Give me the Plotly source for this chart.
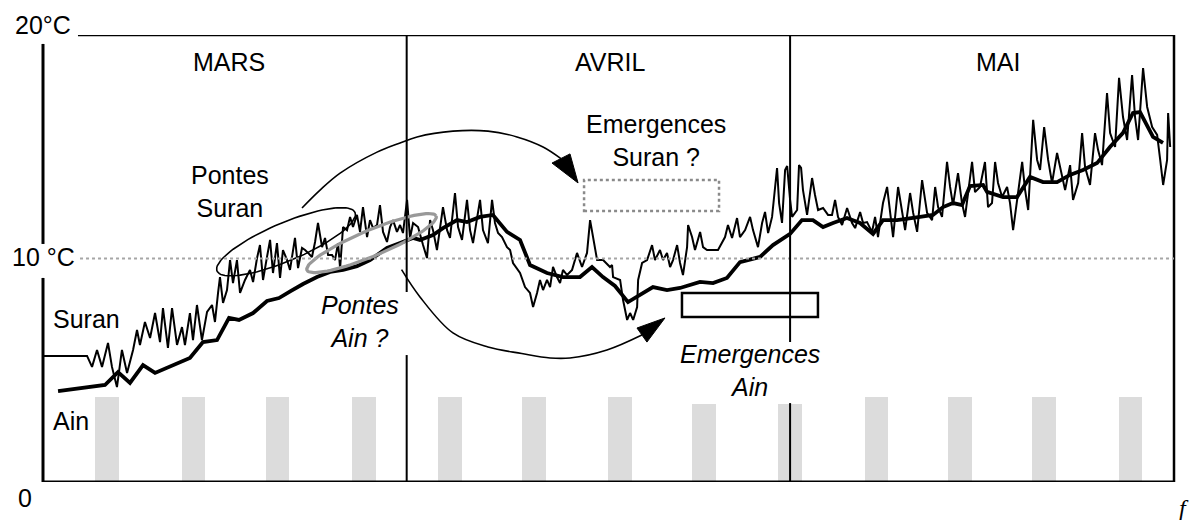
import numpy as np
import plotly.graph_objects as go

# ---------------- data (days since 1 March, water temperature in °C) ----------------
ain_day = [3.72, 7.39, 8.41, 9.35, 10.37, 11.31, 14.04, 15.06, 16.16, 17.10, 17.88, 18.98,
           20.07, 21.01, 21.95, 22.89, 23.98, 25.00, 26.02, 27.11, 28.13, 29.46, 30.48, 31.49,
           32.04, 33.06, 33.84, 34.94, 35.72, 36.74, 37.75, 38.85, 39.87, 40.65, 41.98, 43.23,
           44.56, 45.50, 46.36, 47.30, 48.32, 49.26, 50.27, 51.37, 52.39, 53.95, 54.97, 56.06,
           57.08, 58.65, 59.66, 61.00, 61.93, 62.79, 63.58, 64.36, 65.45, 66.47, 67.49, 68.27,
           69.37, 71.17, 72.18, 72.97, 73.75, 74.45, 75.08, 76.10, 76.41, 77.66, 78.76, 79.77,
           80.79, 81.89, 82.90, 83.92, 85.02, 86.03, 87.05, 87.83, 88.38, 89.40, 90.18]
ain_temp = [4.07, 4.34, 4.92, 4.43, 5.23, 4.88, 5.55, 6.26, 6.35, 7.34, 7.25, 7.56,
            8.10, 8.23, 8.55, 8.86, 9.17, 9.40, 9.49, 9.66, 9.93, 10.47, 10.69, 10.92,
            10.83, 11.05, 11.36, 11.72, 11.63, 11.86, 11.95, 11.19, 10.83, 9.71, 9.35, 9.17,
            9.17, 9.62, 9.17, 8.77, 8.05, 8.37, 8.72, 8.59, 8.68, 8.95, 8.90, 9.13,
            9.84, 10.07, 10.60, 11.10, 11.72, 11.72, 11.41, 11.59, 11.81, 11.59, 11.10, 11.72,
            11.72, 11.86, 11.95, 12.30, 12.48, 12.39, 13.24, 13.29, 12.98, 12.75, 12.75, 13.65,
            13.42, 13.42, 13.74, 13.96, 14.27, 14.99, 15.62, 16.51, 16.55, 15.44, 15.17]

suran_day = [2.55, 5.99, 6.38, 6.77, 7.16, 7.63, 7.94, 8.33, 8.72, 9.12, 9.59, 9.90, 10.13,
             10.52, 10.92, 11.31, 11.70, 11.93, 12.32, 12.64, 13.03, 13.42, 13.65, 14.04, 14.28,
             14.59, 14.98, 15.38, 15.77, 16.00, 16.24, 16.39, 16.63, 16.94, 17.18, 17.41, 17.72,
             17.96,
             18.35, 18.74, 18.98, 19.29, 19.52, 19.76, 20.07, 20.31, 20.54, 20.85, 21.09, 21.32,
             21.64, 21.87, 22.26, 22.50, 22.81, 23.05, 23.28, 23.59, 23.83, 24.06, 24.38, 24.61,
             24.85, 25.16, 25.39, 25.63, 25.79, 26.02, 26.33, 26.57, 26.80, 27.11, 27.35, 27.58,
             27.90, 28.13, 28.37, 28.68, 28.91, 29.15, 29.46, 29.70, 29.93, 30.24, 30.48, 30.71,
             31.03, 31.26, 31.50,
             31.89, 32.28, 32.59, 32.83, 33.06, 33.37, 33.61, 33.84, 34.16, 34.39, 34.78, 35.02,
             35.33, 35.72, 35.96, 36.19, 36.74, 36.97, 37.36, 37.68, 37.91, 38.15, 38.46, 38.85,
             39.09, 39.32, 39.87, 40.26, 40.65, 40.89, 41.20, 41.43, 41.67, 41.98, 42.22, 42.45,
             42.76, 43.00, 43.23, 43.55, 43.94, 44.33, 44.72, 45.11, 45.35, 45.59, 45.90, 46.37,
             46.91,
             47.07, 47.15, 47.70, 47.93, 48.25, 48.48, 48.72, 49.03, 49.11, 49.42, 49.81, 50.20,
             50.43, 50.82, 51.06, 51.37, 51.61, 51.84, 52.16, 52.39, 52.62, 52.94, 53.02, 53.33,
             53.56, 53.96, 54.19, 54.50, 54.97, 55.36, 55.91, 56.14, 56.46, 56.85, 57.08, 57.48,
             57.87, 58.10, 58.49, 58.81, 59.04, 59.28, 59.59, 59.83, 59.98, 60.14, 60.37, 60.61,
             60.77, 61.00, 61.16, 61.55, 61.70, 61.86, 62.01, 62.33,
             62.72, 62.95, 63.19, 63.58, 63.97, 64.28, 64.52, 64.75, 65.07, 65.46, 65.85, 66.09,
             66.48, 66.71, 67.02, 67.41, 67.65, 67.88, 68.27, 68.59, 68.82, 69.06, 69.45, 69.76,
             70.00, 70.39, 70.63, 70.94, 71.33, 71.72, 72.11, 72.35, 72.58, 72.89, 73.28, 73.52,
             73.75, 74.14, 74.45, 74.69, 75.24, 75.47, 75.86, 76.25, 76.49,
             76.80, 77.04, 77.27, 77.59, 77.98, 78.21, 78.45, 78.84, 79.16, 79.39, 79.63, 80.02,
             80.33, 80.56, 80.88, 81.19, 81.50, 81.89, 82.13, 82.52, 82.91, 83.14, 83.54, 83.85,
             84.08, 84.47, 84.86, 85.10, 85.41, 85.80, 86.04, 86.43, 86.74, 87.05, 87.37, 87.76,
             87.99, 88.23, 88.62, 88.94, 89.33, 89.72, 89.96, 90.19, 90.50, 90.58, 90.74]
suran_temp = [5.64, 5.64, 5.15, 5.91, 5.15, 6.22, 5.15, 4.25, 5.91, 4.88, 5.91, 6.80, 6.13,
              7.16, 6.44, 7.56, 6.26, 7.78, 6.00, 7.78, 6.13, 6.93, 6.13, 7.56, 6.35,
              7.92, 6.35, 7.61, 7.92, 7.16, 8.46, 9.17, 8.01, 8.59, 9.93, 8.90, 9.93,
              8.46,
              9.04, 9.49, 8.95, 10.02, 10.60, 9.04, 10.07, 10.83, 9.35, 10.69, 9.13, 10.38,
              9.93, 9.49, 10.92, 9.57, 10.47, 10.38, 10.25, 10.07, 10.74, 11.59, 10.51, 10.92,
              10.16, 10.16, 9.93, 10.69, 9.57, 11.41, 11.27, 11.86, 11.41, 11.95, 11.19, 12.30,
              10.96, 11.72, 11.36, 11.50, 12.39, 11.19, 10.74, 11.41, 11.72, 11.19, 11.50, 11.14,
              12.62, 10.92, 11.59,
              11.41, 10.60, 10.02, 11.72, 11.27, 10.38, 11.27, 12.30, 11.27, 10.92, 12.93, 11.41,
              10.83, 12.62, 11.27, 10.69, 12.62, 11.27, 10.69, 12.62, 11.59, 11.14, 10.96, 10.51,
              10.38, 9.80, 9.35, 8.72, 8.46, 7.83, 8.46, 9.04, 8.59, 9.04, 8.72, 9.62,
              9.17, 8.90, 9.49, 9.26, 9.49, 10.25, 9.62, 10.25, 11.72, 10.96, 9.93, 9.93,
              9.62,
              9.71, 9.17, 9.04, 8.14, 7.25, 7.56, 7.25, 7.83, 9.04, 9.80, 9.93, 10.60,
              9.93, 10.38, 9.93, 10.25, 9.62, 9.93, 10.60, 9.80, 9.26, 10.51, 11.50, 10.96,
              10.38, 11.19, 10.51, 10.38, 10.38, 10.38, 10.96, 11.50, 10.92, 11.81, 10.96, 11.27,
              11.86, 11.27, 10.51, 11.59, 12.08, 11.14, 11.86, 13.29, 14.05, 12.48, 11.59, 13.96,
              14.14, 12.62, 11.86, 12.17, 14.18, 14.05, 13.06, 11.95,
              13.60, 12.84, 12.17, 12.26, 11.95, 11.95, 12.62, 11.86, 11.50, 12.26, 11.59, 11.36,
              12.08, 11.59, 11.63, 11.19, 11.86, 10.96, 12.48, 13.20, 12.17, 10.96, 13.20, 12.04,
              11.27, 12.93, 12.04, 11.19, 13.51, 12.04, 11.72, 13.20, 12.30, 11.86, 14.32, 13.20,
              12.39, 13.82, 12.48, 11.86, 14.32, 12.97, 13.20, 14.32, 12.30,
              12.48, 14.32, 13.38, 12.75, 13.20, 12.48, 11.27, 12.84, 14.32, 13.06, 12.17, 16.20,
              14.41, 13.96, 15.88, 14.41, 13.38, 14.72, 14.09, 13.06, 14.18, 12.62, 13.38, 15.61,
              14.09, 13.29, 15.61, 14.85, 14.18, 17.40, 15.61, 14.99, 18.08, 16.33, 15.30, 18.21,
              16.33, 15.30, 18.52, 16.78, 15.88, 15.53, 14.41, 13.29, 14.41, 16.51, 14.99]

month_names = ["MARS", "AVRIL", "MAI"]
month_label_day = [17.10, 46.91, 77.27]
month_start_day = [31, 61]

weekend_start = [6.61, 13.42, 19.99, 26.72, 33.45, 40.02, 46.75, 53.33, 60.06, 66.86, 73.36, 79.93, 86.74]
weekend_end = [8.49, 15.22, 21.79, 28.60, 35.33, 41.90, 48.63, 55.20, 61.94, 68.66, 75.24, 81.81, 88.54]
weekend_height = [3.8, 3.8, 3.8, 3.8, 3.8, 3.8, 3.8, 3.5, 3.5, 3.8, 3.8, 3.8, 3.8]

# ---------------- layout constants ----------------
W, H = 1201, 520
ML, MR, MT, MB = 43, 27, 35, 38
XR = [2.543, 91.04]
YR = [0, 20]
PXD = (W - ML - MR) / (XR[1] - XR[0])   # px per day
PXT = (H - MT - MB) / (YR[1] - YR[0])   # px per °C

FONT = "Liberation Sans, Arial, sans-serif"
FS = 25

fig = go.Figure()

# weekend bars
centers = [(a + b) / 2 for a, b in zip(weekend_start, weekend_end)]
widths = [b - a for a, b in zip(weekend_start, weekend_end)]
fig.add_trace(go.Bar(x=centers, y=weekend_height, width=widths,
                     marker=dict(color="#dcdcdc", line=dict(width=0)),
                     hoverinfo="skip"))

# Suran (thin) and Ain (thick)
fig.add_trace(go.Scatter(x=suran_day, y=suran_temp, mode="lines",
                         line=dict(color="black", width=2), name="Suran"))
fig.add_trace(go.Scatter(x=ain_day, y=ain_temp, mode="lines",
                         line=dict(color="black", width=3.8), name="Ain"))


def ellipse(cx, cy, a_px, b_px, ang_deg, n=90):
    t = np.linspace(0, 2 * np.pi, n)
    th = np.radians(ang_deg)
    dx = a_px * np.cos(t) * np.cos(th) - b_px * np.sin(t) * np.sin(th)
    dy = a_px * np.cos(t) * np.sin(th) + b_px * np.sin(t) * np.cos(th)
    return cx + dx / PXD, cy + dy / PXT


ex, ey = ellipse(21.56, 10.75, 75, 19, 23)
fig.add_trace(go.Scatter(x=ex, y=ey, mode="lines", line=dict(color="black", width=1.6),
                         hoverinfo="skip"))
gx, gy = ellipse(28.25, 10.69, 70, 13, 22.7)
fig.add_trace(go.Scatter(x=gx, y=gy, mode="lines", line=dict(color="#999999", width=3.2),
                         hoverinfo="skip"))

# curved arrows
up_x = [22.81, 24.22, 25.79, 28.68, 30.48, 31.81, 34.62, 37.36, 39.63, 41.67, 43.07]
up_y = [12.26, 13.06, 13.82, 14.76, 15.17, 15.44, 15.70, 15.70, 15.44, 14.99, 14.47]
fig.add_trace(go.Scatter(x=up_x, y=up_y, mode="lines", line=dict(color="black", width=1.6, shape="spline"),
                         hoverinfo="skip"))
lo_x = [30.60, 32.04, 34.62, 37.36, 40.0, 42.22, 43.78, 46.67, 49.40]
lo_y = [9.50, 8.28, 6.67, 6.04, 5.75, 5.55, 5.55, 5.91, 6.58]
fig.add_trace(go.Scatter(x=lo_x, y=lo_y, mode="lines", line=dict(color="black", width=1.6, shape="spline"),
                         hoverinfo="skip"))

shapes = []


def seg(x0, y0, x1, y1, w=2, color="black", xref="x", dash=None):
    d = dict(type="line", x0=x0, y0=y0, x1=x1, y1=y1, xref=xref, yref="y",
             line=dict(color=color, width=w), layer="above")
    if dash:
        d["line"]["dash"] = dash
    shapes.append(d)


# frame
seg(5.28, 20, XR[1], 20, w=2.5)
seg(1, 0, 1, 20, w=2.5, xref="paper")
seg(0, 0, 1, 0, w=3, xref="paper")
seg(0, 0, 0, 9.13, w=3, xref="paper")
seg(0, 10.65, 0, 19.6, w=3, xref="paper")
# 10 °C dotted reference
seg(5.44, 10, XR[1], 10, w=2, color="#a6a6a6", dash="dot")
# month dividers (with gaps behind labels)
seg(month_start_day[0], 0, month_start_day[0], 5.68, w=2)
seg(month_start_day[0], 8.50, month_start_day[0], 20, w=2)
seg(month_start_day[1], 0, month_start_day[1], 3.53, w=2)
seg(month_start_day[1], 6.26, month_start_day[1], 20, w=2)

# emergence boxes
shapes.append(dict(type="rect", x0=44.88, x1=55.44, y0=12.13, y1=13.51, xref="x", yref="y",
                   line=dict(color="#8a8a8a", width=2.5, dash="dot"), layer="above"))
shapes.append(dict(type="rect", x0=52.54, x1=63.18, y0=7.38, y1=8.46, xref="x", yref="y",
                   line=dict(color="black", width=2.5), layer="above"))
# arrowheads
shapes.append(dict(type="path", path="M 42.37,14.27 L 43.78,14.68 L 44.41,13.38 Z",
                   xref="x", yref="y", fillcolor="black", line=dict(color="black", width=1), layer="above"))
shapes.append(dict(type="path", path="M 49.02,6.89 L 49.80,6.26 L 51.21,7.34 Z",
                   xref="x", yref="y", fillcolor="black", line=dict(color="black", width=1), layer="above"))

ann = []


def text(x, y, s, size=FS, xanchor="center", family=FONT, ref="data"):
    r = "paper" if ref == "paper" else None
    ann.append(dict(x=x, y=y, xref=r or "x", yref=r or "y", text=s, showarrow=False,
                    xanchor=xanchor, yanchor="middle",
                    font=dict(family=family, size=size, color="black")))


# labels outside the axis range (paper coordinates)
text(0.0, 1.022, "20°C", ref="paper")
text(0.0, 0.503, "10 °C", ref="paper")
text(-0.0155, -0.035, "0", ref="paper")
text(1.0088, -0.058, "<i>f</i>", size=24, family="Liberation Serif, serif", ref="paper")

for name, d in zip(month_names, month_label_day):
    text(d, 18.79, name)
text(17.18, 13.0, "Pontes<br>Suran")
text(50.51, 15.28, "Emergences<br>Suran ?")
text(27.35, 7.20, "<i>Pontes<br>Ain ?</i>")
text(57.86, 4.97, "<i>Emergences<br>Ain</i>")
text(3.17, 7.29, "Suran", xanchor="left")
text(3.17, 2.73, "Ain", xanchor="left")

fig.update_layout(
    width=W, height=H,
    margin=dict(l=ML, r=MR, t=MT, b=MB),
    paper_bgcolor="white", plot_bgcolor="white",
    showlegend=False,
    xaxis=dict(range=XR, visible=False, fixedrange=True),
    yaxis=dict(range=YR, visible=False, fixedrange=True),
    shapes=shapes, annotations=ann,
    bargap=0,
)

fig.write_html("out.html")
